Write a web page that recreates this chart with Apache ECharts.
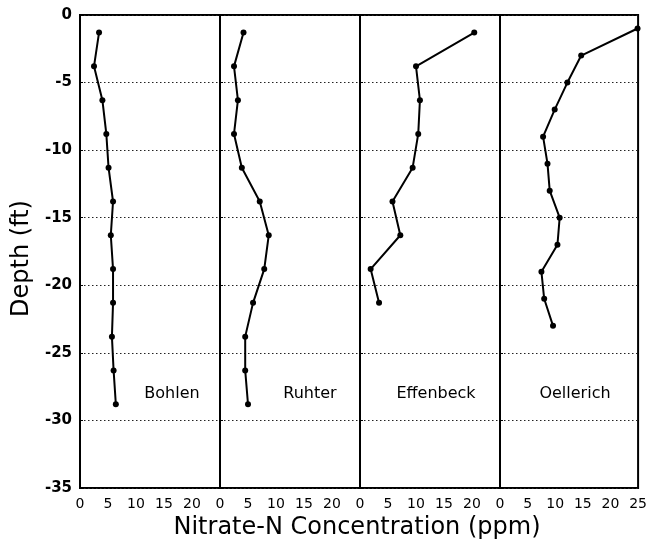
<!DOCTYPE html>
<html>
<head>
<meta charset="utf-8">
<script src="https://cdn.jsdelivr.net/npm/echarts@6/dist/echarts.min.js"></script>
<style>
  html, body { margin: 0; padding: 0; background: #fff; }
  #chart { width: 650px; height: 546px; }
</style>
</head>
<body>
<div id="chart"></div>
<script>
// sites, left to right
const siteNames = ['Bohlen', 'Ruhter', 'Effenbeck', 'Oellerich']

// depth (ft) of each sample
const bohlenDepth    = [-1.3, -3.8, -6.3, -8.8, -11.3, -13.8, -16.3, -18.8, -21.3, -23.8, -26.3, -28.8]
const ruhterDepth    = [-1.3, -3.8, -6.3, -8.8, -11.3, -13.8, -16.3, -18.8, -21.3, -23.8, -26.3, -28.8]
const effenbeckDepth = [-1.3, -3.8, -6.3, -8.8, -11.3, -13.8, -16.3, -18.8, -21.3]
const oellerichDepth = [-1, -3, -5, -7, -9, -11, -13, -15, -17, -19, -21, -23]

// nitrate-N (ppm)
const bohlenNitrate    = [3.4, 2.5, 4.0, 4.7, 5.1, 5.9, 5.5, 5.9, 5.9, 5.7, 6.0, 6.4]
const ruhterNitrate    = [4.2, 2.5, 3.2, 2.5, 3.9, 7.1, 8.7, 7.9, 5.9, 4.5, 4.5, 5.0]
const effenbeckNitrate = [20.4, 10.0, 10.7, 10.4, 9.4, 5.8, 7.2, 1.9, 3.4]
const oellerichNitrate = [24.9, 14.7, 12.2, 9.9, 7.8, 8.6, 9.0, 10.8, 10.4, 7.5, 8.0, 9.6]

const depthTicks = [0, -5, -10, -15, -20, -25, -30, -35]
const nitrateTicks = [0, 5, 10, 15, 20, 25]

const depths = [bohlenDepth, ruhterDepth, effenbeckDepth, oellerichDepth]
const nitrates = [bohlenNitrate, ruhterNitrate, effenbeckNitrate, oellerichNitrate]

const font = '"DejaVu Sans", "Liberation Sans", Arial, sans-serif'
const panelLeft = [80, 220, 360, 500]
const labelX = [172, 310, 436, 575]

const chart = echarts.init(document.getElementById('chart'), null, { renderer: 'canvas' })

const grids = [], xAxes = [], yAxes = [], series = [], titles = []
for (let i = 0; i < 4; i++) {
	grids.push({
		left: panelLeft[i], top: 15, width: 140, height: 473,
		show: true, borderColor: '#000', borderWidth: 2, backgroundColor: 'transparent'
	})
	xAxes.push({
		gridIndex: i, type: 'value',
		min: nitrateTicks[0], max: nitrateTicks[nitrateTicks.length - 1], interval: 5,
		axisLine: { show: false },
		axisTick: { show: false },
		splitLine: { show: false },
		axisLabel: {
			show: true, showMaxLabel: i === 3, showMinLabel: true,
			color: '#000', fontFamily: font, fontSize: 14, margin: 9
		}
	})
	yAxes.push({
		gridIndex: i, type: 'value',
		min: depthTicks[depthTicks.length - 1], max: depthTicks[0], interval: 5,
		name: i === 0 ? 'Depth (ft)' : '',
		nameLocation: 'middle', nameGap: 46, nameRotate: 90,
		nameTextStyle: { color: '#000', fontFamily: font, fontSize: 24, padding: [0, 0, 0, -14] },
		axisLine: { show: false },
		axisTick: { show: true, inside: true, length: 3, lineStyle: { color: '#000' } },
		splitLine: { show: true, lineStyle: { color: '#222', type: [1.5, 2.5], width: 1 } },
		axisLabel: {
			show: i === 0, color: '#000', fontFamily: font, fontSize: 15, fontWeight: 'bold', margin: 8
		}
	})
	series.push({
		name: siteNames[i], type: 'line', xAxisIndex: i, yAxisIndex: i,
		data: depths[i].map((d, k) => [nitrates[i][k], d]),
		symbol: 'circle', symbolSize: 6,
		itemStyle: { color: '#000' },
		lineStyle: { color: '#000', width: 2 },
		animation: false
	})
	titles.push({
		text: siteNames[i], left: labelX[i], top: 386, textAlign: 'center', padding: 0,
		textStyle: { color: '#000', fontFamily: font, fontSize: 16, fontWeight: 'normal' }
	})
}

titles.push({
	text: 'Nitrate-N Concentration (ppm)', left: 357, top: 516, textAlign: 'center', padding: 0,
	textStyle: { color: '#000', fontFamily: font, fontSize: 24, fontWeight: 'normal' }
})

chart.setOption({
	animation: false,
	backgroundColor: '#fff',
	title: titles,
	grid: grids,
	xAxis: xAxes,
	yAxis: yAxes,
	series: series
})
</script>
</body>
</html>
